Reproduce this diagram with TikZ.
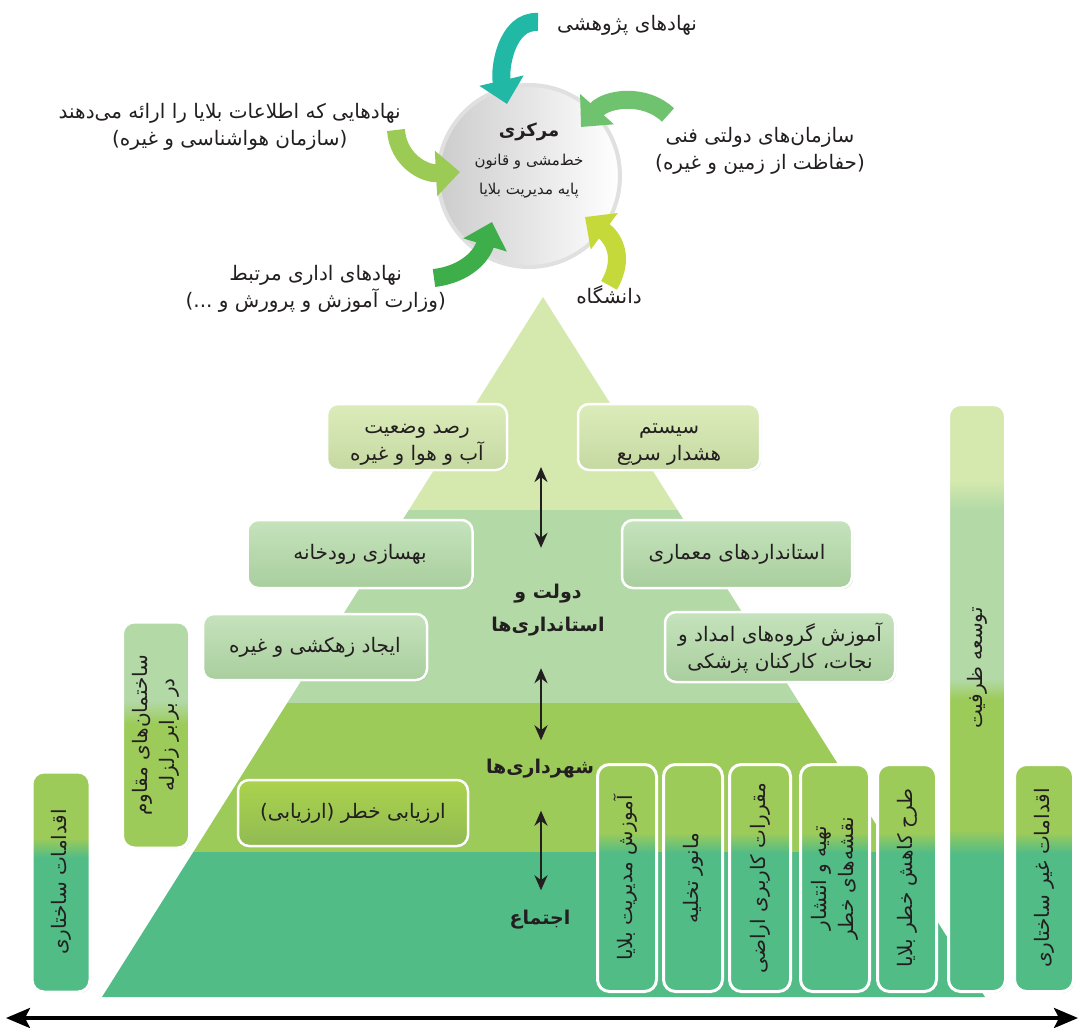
\documentclass[tikz,border=0pt]{standalone}
\usepackage{fontspec}
\setmainfont[Script=Arabic]{DejaVu Sans}
\usepackage{graphicx}
\usetikzlibrary{arrows.meta, shadows}
\TeXXeTstate=1

\definecolor{ink}{HTML}{231F20}
\definecolor{tierA}{HTML}{D5E9AE}
\definecolor{tierB}{HTML}{B2D9A6}
\definecolor{tierC}{HTML}{9DCB5A}
\definecolor{tierD}{HTML}{51BC86}
\definecolor{feedTeal}{HTML}{21B9A6}
\definecolor{feedMint}{HTML}{6FC36F}
\definecolor{feedLime}{HTML}{9CCB55}
\definecolor{feedGreen}{HTML}{3DAE4A}
\definecolor{feedYellow}{HTML}{C5D93A}

\newcommand{\rtltext}[1]{\strut\beginR #1\endR}
\newcommand{\uptext}[1]{\rotatebox{90}{#1}}
\newcommand{\uptwo}[2]{\rotatebox{90}{\begin{tabular}{@{}c@{}}#1\\#2\end{tabular}}}
\newcommand{\labsize}{\fontsize{20}{27}\selectfont}
\newcommand{\tiersize}{\fontsize{19}{33}\selectfont}

% bar fills, bottom (0bp) to top (100bp); the node spans 25bp--75bp
\pgfdeclareverticalshading{barshade}{100bp}{color(0bp)=(tierD); color(55.5bp)=(tierD); color(60bp)=(tierC); color(100bp)=(tierC)}
\pgfdeclareverticalshading{wallshade}{100bp}{color(0bp)=(tierC); color(52.5bp)=(tierC); color(57.5bp)=(tierB); color(100bp)=(tierB)}
\pgfdeclareverticalshading{capshade}{100bp}{color(0bp)=(tierD); color(36.7bp)=(tierD); color(38.8bp)=(tierC); color(49.9bp)=(tierC); color(51.6bp)=(tierB); color(66bp)=(tierB); color(68.6bp)=(tierA); color(100bp)=(tierA)}

\tikzset{
  lab/.style={font=\labsize, text=ink, inner sep=0pt, align=center},
  tiername/.style={font=\tiersize\bfseries, text=ink, inner sep=0pt, align=center},
  hub/.style={circle, minimum size=182pt, left color=black!20, right color=white,
              draw=black!12, line width=4pt},
  hubtxt/.style={font=\fontsize{15}{29}\selectfont, text=ink, inner sep=0pt, align=center},
  card/.style={rounded corners=11pt, draw=white, line width=2.5pt, text=ink,
               font=\labsize, align=center, inner sep=0pt,
               drop shadow={opacity=0.35, shadow xshift=1.2pt, shadow yshift=-1.2pt}},
  cardA/.style={card, top color=tierA!85!white, bottom color=tierA!93!black},
  cardB/.style={card, top color=tierB!75!white, bottom color=tierB!95!black},
  cardC/.style={card, top color=tierC!85!yellow, bottom color=tierC!92!black},
  barbox/.style={card, rounded corners=12pt, line width=3pt, shade, shading=barshade},
  feed/.style={line width=18pt, -{Triangle[length=24pt, width=44pt]}},
  tierarr/.style={{Stealth[length=15pt, width=13pt]}-{Stealth[length=15pt, width=13pt]},
                  line width=2.5pt, draw=ink},
  axisarr/.style={{Stealth[length=24pt, width=20pt, inset=5pt]}-{Stealth[length=24pt, width=20pt, inset=5pt]},
                  line width=3.5pt, draw=black},
}

\begin{document}
\begin{tikzpicture}[x=1pt, y=-1pt]
  \useasboundingbox (0,0) rectangle (1080,1028);

  % the pyramid, cut into four tiers
  \begin{scope}
    \clip (543,297) -- (985,997) -- (102,997) -- cycle;
    \fill[tierA] (0,290) rectangle (1080,510);
    \fill[tierB] (0,510) rectangle (1080,703);
    \fill[tierC] (0,703) rectangle (1080,852);
    \fill[tierD] (0,852) rectangle (1080,1000);
  \end{scope}

  % hub and the bodies feeding it
  \node[hub] (hub) at (529,176) {};
  \node[hubtxt] (hubtext) at ([yshift=16pt]hub.center)
    {{\fontsize{18}{29}\selectfont\bfseries\rtltext{مرکزی}}\\\rtltext{خط‌مشی و قانون}\\\rtltext{پایه مدیریت بلایا}};

  \node[lab, anchor=west] (research) at (557,25) {\rtltext{نهادهای پژوهشی}};
  \node[lab, anchor=east] (infobody) at (401,127)
    {\rtltext{نهادهایی که اطلاعات بلایا را ارائه می‌دهند}\\\rtltext{(سازمان هواشناسی و غیره)}};
  \node[lab, anchor=west] (techgov) at (655,151)
    {\rtltext{سازمان‌های دولتی فنی}\\\rtltext{(حفاظت از زمین و غیره)}};
  \node[lab, anchor=east] (admin) at (446,289)
    {\rtltext{نهادهای اداری مرتبط}\\\rtltext{(وزارت آموزش و پرورش و ...)}};
  \node[lab] (uni) at (609,298) {\rtltext{دانشگاه}};

  \draw[feed, draw=feedTeal] ([shift={(-19,-3)}]research.west)
    .. controls +(-32,-2) and +(-8,-34) .. ([shift={(-22,-72)}]hub.center);
  \draw[feed, draw=feedMint] ([shift={(13,-36)}]techgov.west)
    .. controls +(-23,-22) and +(26,-29) .. ([shift={(52,-49)}]hub.center);
  \draw[feed, draw=feedLime] ([shift={(-5,3)}]infobody.east)
    .. controls +(2,30) and +(-36,2) .. ([shift={(-69,-4)}]hub.center);
  \draw[feed, draw=feedGreen] ([shift={(-12,-11)}]admin.east)
    .. controls +(33,-4) and +(-10,33) .. ([shift={(-37,46)}]hub.center);
  \draw[feed, draw=feedYellow] ([yshift=-1pt]uni.north)
    .. controls +(17,-29) and +(27,20) .. ([shift={(56,41)}]hub.center);

  % tier names and the links between them
  \node[tiername] (govtier) at (548,608) {\rtltext{دولت و}\\\rtltext{استانداری‌ها}};
  \node[tiername] (citytier) at (540,767) {\rtltext{شهرداری‌ها}};
  \node[tiername] (folktier) at (540,918) {\rtltext{اجتماع}};
  \coordinate (toptier) at (541,467);
  \draw[tierarr, shorten >=27pt] (toptier) -- (toptier |- govtier.north);
  \draw[tierarr, shorten <=27pt, shorten >=10pt] (toptier |- govtier.south) -- (toptier |- citytier.north);
  \draw[tierarr, shorten <=27pt, shorten >=11pt] (toptier |- citytier.south) -- (toptier |- folktier.north);

  % measures inside the pyramid
  \node[cardA, minimum width=180pt, minimum height=66pt] (weather) at (417,437)
    {\rule{0pt}{29pt}\rtltext{رصد وضعیت}\\\rtltext{آب و هوا و غیره}};
  \node[cardA, minimum width=182pt, minimum height=66pt] (warning) at (669,437)
    {\rule{0pt}{29pt}\rtltext{سیستم}\\\rtltext{هشدار سریع}};
  \node[cardB, minimum width=225pt, minimum height=68pt] (river) at (360,554) {\rtltext{بهسازی رودخانه}};
  \node[cardB, minimum width=230pt, minimum height=68pt] (codes) at (737,554) {\rtltext{استانداردهای معماری}};
  \node[cardB, minimum width=224pt, minimum height=66pt] (drain) at (315,647) {\rtltext{ایجاد زهکشی و غیره}};
  \node[cardB, minimum width=230pt, minimum height=70pt] (rescue) at (780,647)
    {\rule{0pt}{25pt}\rtltext{آموزش گروه‌های امداد و}\\\rtltext{نجات، کارکنان پزشکی}};
  \node[cardC, minimum width=230pt, minimum height=66pt] (assess) at (353,813) {\rtltext{ارزیابی خطر (ارزیابی)}};

  % upright bars
  \node[barbox, minimum width=58pt, minimum height=220pt] (structural) at (61,882)
    {\uptext{\rtltext{اقدامات ساختاری}}};
  \node[barbox, shading=wallshade, minimum width=67pt, minimum height=226pt] (resistant) at (156,735)
    {\uptwo{\rtltext{ساختمان‌های مقاوم}}{\rtltext{در برابر زلزله}}};
  \node[barbox, minimum width=59pt, minimum height=227pt] (training) at (627,878)
    {\uptext{\rtltext{آموزش مدیریت بلایا}}};
  \node[barbox, minimum width=59pt, minimum height=227pt] (drill) at (693,878)
    {\uptext{\rtltext{مانور تخلیه}}};
  \node[barbox, minimum width=61pt, minimum height=227pt] (landuse) at (760,878)
    {\uptext{\rtltext{مقررات کاربری اراضی}}};
  \node[barbox, minimum width=69pt, minimum height=227pt] (hazmap) at (835,878)
    {\uptwo{\rtltext{تهیه و انتشار}}{\rtltext{نقشه‌های خطر}}};
  \node[barbox, minimum width=59pt, minimum height=227pt] (reduce) at (907,878)
    {\uptext{\rtltext{طرح کاهش خطر بلایا}}};
  \node[barbox, shading=capshade, minimum width=57pt, minimum height=587pt] (capacity) at (977,698)
    {\uptext{\hspace*{60pt}\rtltext{توسعه ظرفیت}}};
  \node[barbox, minimum width=59pt, minimum height=227pt] (nonstruct) at (1044,878)
    {\uptext{\rtltext{اقدامات غیر ساختاری}}};

  % axis along the bottom
  \coordinate (axisL) at (6,1018);
  \coordinate (axisR) at (1078,1018);
  \draw[axisarr] (axisL) -- (axisR);
\end{tikzpicture}
\end{document}
